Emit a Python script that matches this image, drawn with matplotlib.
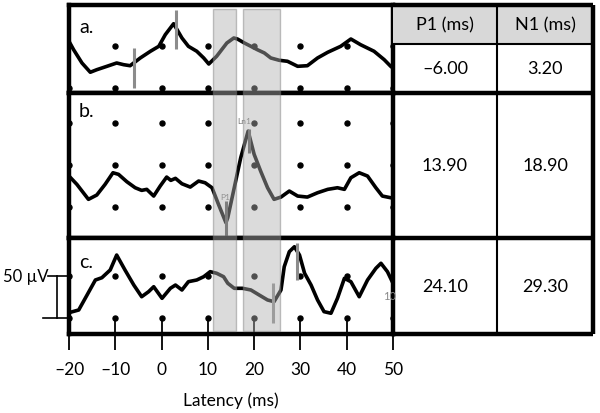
import matplotlib.pyplot as plt
from matplotlib.patches import Rectangle
from matplotlib.transforms import blended_transform_factory

plt.rcParams['font.family'] = ['Lato', 'DejaVu Sans']

# waveforms: latency (ms) and amplitude (uV)
a_ms = [-20.0, -19.0, -17.2, -15.4, -14.0, -11.8, -9.7, -8.2, -6.8, -4.6, -2.4, -0.6,
        0.8, 2.6, 4.4, 5.8, 7.6, 9.1, 10.2, 11.9, 14.1, 15.6, 16.4, 17.9, 19.3, 20.7,
        22.2, 23.6, 25.4, 27.2, 29.4, 31.5, 33.7, 35.9, 38.7, 40.9, 43.0, 45.9, 48.1,
        49.5, 50.0]
a_uv = [5.5, -4.4, -20.0, -30.9, -27.9, -23.9, -20.0, -22.0, -23.2, -14.1, -6.2, -0.4,
        13.3, 26.2, 9.4, -0.4, -6.2, -14.1, -21.2, -12.1, 3.5, 9.4, 8.2, 3.5, -0.4, -4.4,
        -8.2, -14.1, -16.8, -18.0, -23.9, -23.2, -14.1, -7.4, -0.4, 8.2, 1.5, -6.2, -16.1,
        -23.9, -26.0]

b_ms = [-20.0, -18.3, -15.8, -14.0, -12.2, -10.5, -9.3, -7.5, -5.7, -4.3, -3.2, -1.7,
        -0.3, 1.1, 2.0, 3.0, 4.4, 6.2, 8.0, 9.4, 10.9, 12.3, 13.9, 14.3, 15.7, 17.1,
        18.7, 20.0, 21.4, 22.9, 24.3, 25.8, 27.6, 29.4, 31.5, 33.7, 35.9, 38.0, 39.5,
        40.9, 42.7, 44.5, 46.3, 47.7, 49.5, 50.0]
b_uv = [-13.0, -22.8, -40.5, -35.4, -22.8, -9.1, -11.0, -19.7, -26.8, -29.9, -28.7, -36.6,
        -24.8, -14.2, -18.1, -15.7, -22.1, -26.0, -18.9, -20.9, -26.8, -46.4, -68.0, -62.2,
        -26.8, 8.6, 40.0, 12.6, -7.1, -26.8, -40.5, -37.8, -30.7, -36.6, -37.8, -32.7, -28.7,
        -26.8, -28.7, -15.0, -9.1, -13.0, -26.8, -36.6, -38.6, -39.0]

c_ms = [-20.0, -17.9, -16.1, -14.3, -12.9, -11.1, -9.7, -7.9, -6.0, -4.3, -2.8, -1.7,
        0.1, 1.9, 3.0, 4.4, 5.8, 7.6, 9.1, 10.5, 11.9, 13.4, 14.3, 15.7, 17.5, 19.3,
        21.1, 22.9, 24.3, 25.8, 26.5, 27.6, 28.7, 29.8, 30.9, 32.3, 33.7, 35.1, 36.6,
        38.0, 39.5, 40.9, 42.7, 44.5, 46.3, 47.4, 48.8, 50.0]
c_uv = [-44.0, -40.8, -23.0, -5.1, -2.4, 6.8, 24.6, 6.8, -11.1, -25.0, -19.0, -13.1,
        -26.9, -15.0, -11.1, -17.0, -7.1, -5.1, -1.2, 4.8, 2.9, -1.2, -9.0, -15.0, -15.0,
        -17.0, -23.0, -28.9, -30.9, -17.0, 10.7, 28.6, 34.5, 24.6, 2.9, -11.1, -28.9, -42.8,
        -44.7, -26.9, -3.1, -7.1, -25.0, -5.1, 8.8, 14.8, 4.8, -9.0]

# peak latencies (table)
row_names = ['a.', 'b.', 'c.']
p1_ms = [-6.00, 13.90, 24.10]
n1_ms = [3.20, 18.90, 29.30]
p1_labels = ['–6.00', '13.90', '24.10']
n1_labels = ['3.20', '18.90', '29.30']
# vertical extent (uV) of the peak markers in each panel
p1_lo = [-49.4, -86.0, -56.7]
p1_hi = [-2.4, -42.5, -8.7]
n1_lo = [-3.5, 14.5, -5.1]
n1_hi = [42.7, 42.5, 38.9]

# shaded analysis windows (ms)
win_start = [11.2, 17.7]
win_end = [16.0, 25.5]

tick_ms = [-20, -10, 0, 10, 20, 30, 40, 50]
tick_labels = ['–20', '–10', '0', '10', '20', '30', '40', '50']
dot_rows = [[0, -50], [50, 0, -50], [0, -50]]

W, H = 600, 414
fig = plt.figure(figsize=(6, 4.14), dpi=100)


def px_axes(x0, y0, x1, y1):
    return fig.add_axes([x0 / W, 1 - y1 / H, (x1 - x0) / W, (y1 - y0) / H])


row_edges = [6, 94, 239, 334.5]
ylims = [(-55.3, 48.2), (-86.1, 85.0), (-68.8, 44.9)]
curves = [(a_ms, a_uv), (b_ms, b_uv), (c_ms, c_uv)]
marker_cols = ['#8c8c8c', '#555555', '#8c8c8c']
label_y = [0.693, 0.841, 0.696]

axes = []
for i in range(3):
    ax = px_axes(69, row_edges[i], 393, row_edges[i + 1])
    ax.set_xlim(-20, 50)
    ax.set_ylim(*ylims[i])
    ax.set_yticks([])
    for s in ax.spines.values():
        s.set_linewidth(3.2)
    # dot grid
    for r in dot_rows[i]:
        ax.plot(tick_ms, [r] * len(tick_ms), 'o', color='black', ms=3.6, zorder=1)
    t, v = curves[i]
    ax.plot(t, v, color='black', lw=2.6, solid_joinstyle='round', zorder=3)
    ax.vlines(p1_ms[i], p1_lo[i], p1_hi[i], color=marker_cols[i], lw=2.2, zorder=4)
    ax.vlines(n1_ms[i], n1_lo[i], n1_hi[i], color=marker_cols[i], lw=2.2, zorder=4)
    ax.text(0.031, label_y[i], row_names[i], transform=ax.transAxes, fontsize=14,
            va='baseline', ha='left')
    axes.append(ax)

ax_a, ax_b, ax_c = axes
for ax in (ax_a, ax_b):
    ax.tick_params(axis='x', bottom=False, labelbottom=False)

ax_c.set_xticks(tick_ms)
ax_c.set_xticklabels(tick_labels)
ax_c.tick_params(axis='x', direction='inout', length=23, width=1.3, pad=8, labelsize=12.5)
ax_c.set_xlabel('Latency (ms)', fontsize=12.5)
ax_c.xaxis.set_label_coords(0.5, -0.693)
ax_c.xaxis.label.set_va('center')

# small software labels
ax_b.text(17.9, 53, 'Ln1', fontsize=6, color='#777777', ha='center', va='center')
ax_b.text(13.8, -36.6, 'P1', fontsize=6, color='#777777', ha='center', va='center')
ax_c.text(47.9, -23, '10', fontsize=8, color='#888888', ha='left', va='center')

# 50 uV scale bar
tr = blended_transform_factory(ax_c.transAxes, ax_c.transData)
ax_c.plot([-0.065, -0.003], [0, 0], transform=tr, clip_on=False, color='black', lw=1.2)
ax_c.plot([-0.037, -0.037], [0, -50], transform=tr, clip_on=False, color='black', lw=1.2)
ax_c.plot([-0.080, -0.003], [-50, -50], transform=tr, clip_on=False, color='black', lw=1.2)
ax_c.text(-0.064, 0, '50 µV', transform=tr, ha='right', va='center', fontsize=12)

# shaded windows spanning all three panels
tr_win = blended_transform_factory(ax_c.transData, fig.transFigure)
for s, e in zip(win_start, win_end):
    fig.add_artist(Rectangle((s, 1 - 332 / H), e - s, (332 - 10) / H, transform=tr_win,
                             facecolor='#b0b0b0', alpha=0.45, edgecolor='#7a7a7a',
                             lw=1.0, zorder=5))

# latency table
ax_t = px_axes(393, 6, 593, 334.5)
ax_t.set_xlim(393, 593)
ax_t.set_ylim(334.5, 6)
ax_t.axis('off')
tab_rows = [6, 45, 94, 239, 334.5]
tab_cols = [393, 497, 593]
ax_t.add_patch(Rectangle((393, 6), 200, 39, facecolor='#d8d8d8', edgecolor='none'))
ax_t.hlines([6, 94, 239, 334.5], 393, 593, color='black', lw=3.2, clip_on=False)
ax_t.hlines(45, 393, 593, color='black', lw=1.5, clip_on=False)
ax_t.vlines(593, 6, 334.5, color='black', lw=3.2, clip_on=False)
ax_t.vlines(497, 6, 334.5, color='black', lw=1.5, clip_on=False)

cx1 = (tab_cols[0] + tab_cols[1]) / 2
cx2 = (tab_cols[1] + tab_cols[2]) / 2
ax_t.text(cx1, (tab_rows[0] + tab_rows[1]) / 2, 'P1 (ms)', ha='center', va='center', fontsize=13)
ax_t.text(cx2, (tab_rows[0] + tab_rows[1]) / 2, 'N1 (ms)', ha='center', va='center', fontsize=13)
for i in range(3):
    yc = (tab_rows[i + 1] + tab_rows[i + 2]) / 2
    ax_t.text(cx1, yc, p1_labels[i], ha='center', va='center', fontsize=13)
    ax_t.text(cx2, yc, n1_labels[i], ha='center', va='center', fontsize=13)

fig.savefig('out.png', dpi=100)
